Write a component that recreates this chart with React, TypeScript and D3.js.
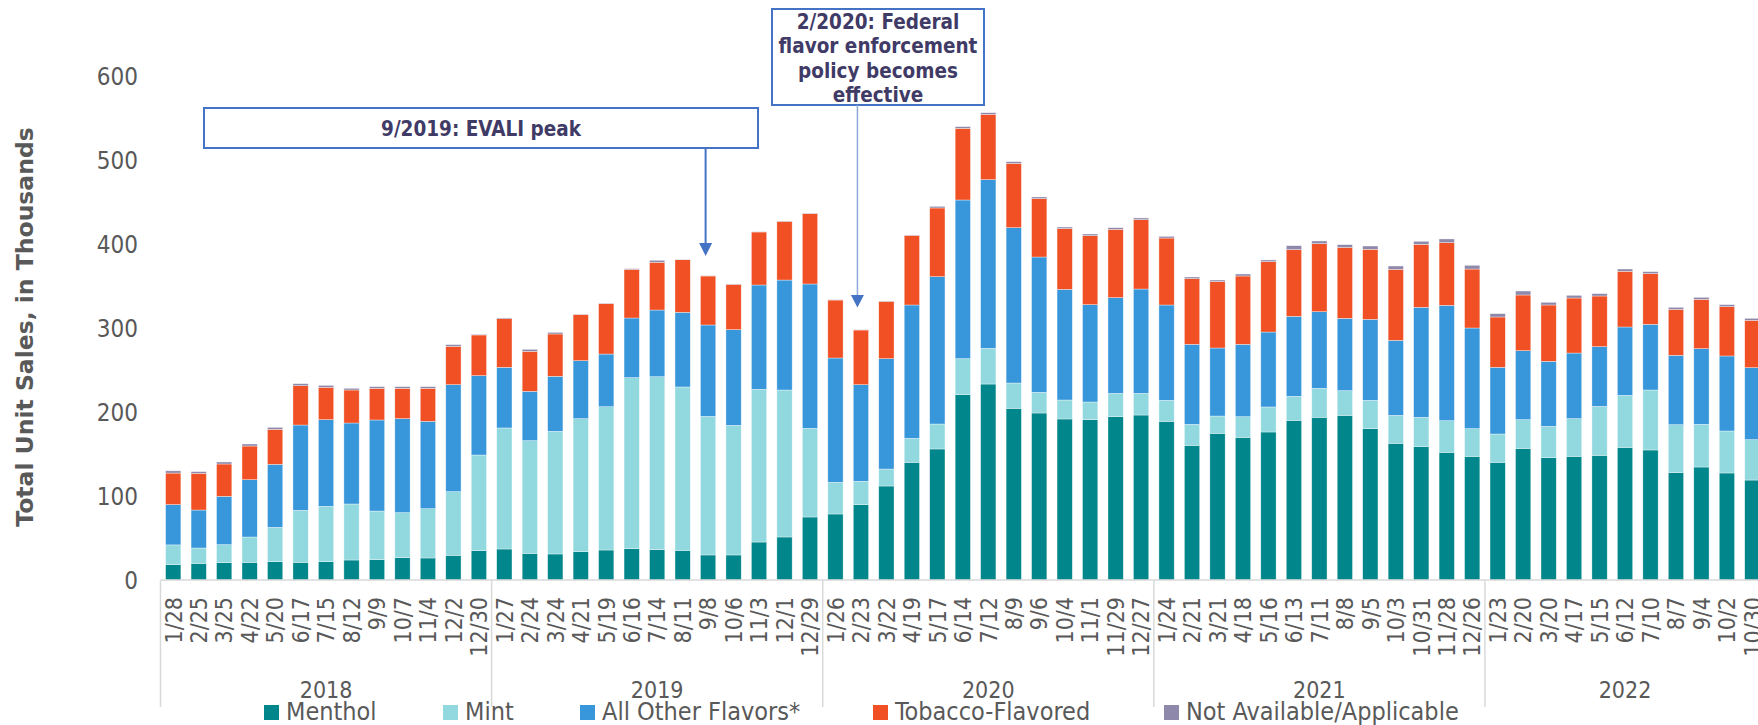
import * as d3 from "d3";

const dates = [
  "1/28", "2/25", "3/25", "4/22", "5/20", "6/17", "7/15", "8/12", "9/9", "10/7", "11/4", "12/2", "12/30",
  "1/27", "2/24", "3/24", "4/21", "5/19", "6/16", "7/14", "8/11", "9/8", "10/6", "11/3", "12/1", "12/29",
  "1/26", "2/23", "3/22", "4/19", "5/17", "6/14", "7/12", "8/9", "9/6", "10/4", "11/1", "11/29", "12/27",
  "1/24", "2/21", "3/21", "4/18", "5/16", "6/13", "7/11", "8/8", "9/5", "10/3", "10/31", "11/28", "12/26",
  "1/23", "2/20", "3/20", "4/17", "5/15", "6/12", "7/10", "8/7", "9/4", "10/2", "10/30",
];
const years = ["2018", "2019", "2020", "2021", "2022"];
const yearCounts = [13, 13, 13, 13, 11];

const menthol = [
  18.3, 19.8, 20.6, 21, 21.8, 21, 21.8, 23.8, 24.2, 26.6, 26.2, 29.4, 34.9,
  36.9, 31.7, 31, 33.7, 35.7, 37.3, 36.1, 35.3, 29.8, 29.8, 45.2, 51.2, 75,
  78.6, 89.7, 111.9, 140.1, 156, 220.6, 233.3, 204.4, 198.8, 191.7, 190.9, 194.4, 196.4,
  188.9, 160.3, 174.6, 169.8, 176.2, 190.1, 193.7, 196, 180.2, 162.7, 158.7, 152, 147.2,
  140.1, 156.7, 145.6, 147.2, 148.4, 157.9, 154.8, 127.8, 134.5, 127.4, 119,
];
const mint = [
  23.5, 18.3, 21.5, 30.2, 40.9, 61.9, 65.9, 66.7, 57.9, 53.6, 58.7, 75.8, 113.9,
  144.1, 134.2, 146, 158.4, 170.6, 203.6, 205.9, 194.5, 165, 154.3, 181.8, 175, 105.6,
  37.7, 27.8, 20.2, 28.6, 29.7, 42.9, 42.5, 30.1, 24.6, 22.6, 21, 27.8, 25.8,
  25, 25, 20.6, 24.6, 29.8, 28.6, 34.5, 29.4, 33.7, 33.3, 35, 37.7, 33,
  33.7, 34.2, 37.3, 44.9, 58.3, 61.9, 71.4, 57.1, 50.8, 50, 48.1,
];
const otherFlavors = [
  48, 45.2, 57.5, 68.2, 75, 101.6, 103.2, 96.4, 108.4, 111.9, 104, 127.3, 94.5,
  72.2, 58.7, 65.5, 69, 62.7, 71, 79.4, 88.9, 108.8, 113.9, 124.2, 130.9, 171.8,
  148, 115, 131.4, 158.7, 175.4, 188.9, 200.8, 184.9, 161.1, 131.7, 115.9, 113.9, 124.2,
  113.5, 95.3, 81, 86.2, 89.2, 95.2, 91.2, 86.1, 96.4, 89.3, 130.9, 137.3, 119.8,
  79.4, 82.1, 77.4, 78.1, 71.1, 81.4, 78.2, 82.6, 90.1, 89.3, 85.7,
];
const tobacco = [
  37.5, 43.7, 38.5, 40.1, 41.7, 46.8, 38.5, 39.3, 37.7, 36.1, 39.3, 45.7, 48.4,
  57.9, 47.6, 50.4, 54.8, 60, 57.9, 56.8, 62.6, 58.3, 54, 63.1, 69.9, 83.7,
  69, 65.1, 68.2, 82.9, 81.8, 85.3, 77.8, 76.6, 69.5, 72.3, 82.1, 81.4, 82.6,
  79.7, 78.1, 79, 81.3, 83.8, 79.4, 81, 84.5, 83.4, 84.5, 75, 74.6, 70.2,
  59.9, 66.3, 67.1, 65.5, 60.3, 66.3, 60.3, 54.7, 58.7, 58.7, 56.3,
];
const notAvailable = [
  2.7, 2, 2.4, 2.4, 2.3, 2.4, 2.3, 2, 2, 2, 2, 2, 0.8,
  0.9, 2.4, 1.9, 0.4, 0.4, 0.8, 2.4, 0.4, 0.4, 0.4, 0.4, 0.4, 0.4,
  0.4, 0.4, 0.4, 0.4, 1.9, 2, 1.9, 2, 2, 1.9, 2, 1.9, 2,
  2, 2, 1.9, 2.4, 2, 4.7, 3.2, 3.2, 3.9, 4, 3.6, 4.4, 4.4,
  4, 4.7, 3.2, 3.2, 2.8, 2.7, 2.4, 2.4, 2.4, 2.4, 2.4,
];

const seriesNames = ["Menthol", "Mint", "All Other Flavors*", "Tobacco-Flavored", "Not Available/Applicable"];
const seriesColors = ["#00868B", "#92D9DF", "#3897DB", "#F05023", "#8E88AA"];
const yTicks = [0, 100, 200, 300, 400, 500, 600];

const W = 1758;
const H = 725;
const FONT = "'DejaVu Sans Condensed', 'DejaVu Sans', sans-serif";
const GRAY = "#595959";
const NOTE = "#3F3B66";

export default function App() {
  const rows = dates.map((d, i) => ({
    i,
    date: d,
    s0: menthol[i],
    s1: mint[i],
    s2: otherFlavors[i],
    s3: tobacco[i],
    s4: notAvailable[i],
  }));
  const keys = ["s0", "s1", "s2", "s3", "s4"];
  const stacked = d3.stack<any>().keys(keys)(rows);

  const step = 25.47;
  const x0 = 160.5;
  const x = d3
    .scaleBand<number>()
    .domain(rows.map((r) => r.i))
    .range([x0, x0 + step * rows.length])
    .paddingInner(0.4)
    .paddingOuter(0.2);
  const y = d3.scaleLinear().domain([0, 600]).range([580, 76]);
  const cx = (i: number) => (x(i) as number) + x.bandwidth() / 2;

  // year group boundaries
  const bounds: number[] = [0];
  yearCounts.forEach((c) => bounds.push(bounds[bounds.length - 1] + c));
  const edge = (k: number) => x0 + x.step() * bounds[k];

  const legendX = [264, 443, 580, 873, 1164];

  const evaliX = cx(dates.indexOf("9/8", 13)) - 2.5;
  const fedX = cx(dates.indexOf("2/23", 26)) - 3.5;

  return (
    <div style={{ position: "absolute", left: 0, top: 0, width: W, height: H, overflow: "hidden" }}>
      <svg width={W} height={H} style={{ display: "block", fontFamily: FONT, fontStretch: "condensed" }}>
        <rect width={W} height={H} fill="#fff" />

        {/* bars */}
        {stacked.map((layer, li) => (
          <g key={li} fill={seriesColors[li]}>
            {layer.map((d, j) => (
              <rect
                key={j}
                x={x(j)}
                width={x.bandwidth()}
                y={y(d[1])}
                height={Math.max(0, y(d[0]) - y(d[1]))}
                stroke="#fff"
                strokeWidth={0.6}
                strokeOpacity={0.6}
              />
            ))}
          </g>
        ))}

        {/* y tick labels */}
        {yTicks.map((t) => (
          <text key={t} x={138} y={y(t)} dy="0.36em" textAnchor="end" fontSize={24} fill={GRAY}>
            {t}
          </text>
        ))}

        {/* x axis */}
        <line x1={x0} x2={W} y1={y(0)} y2={y(0)} stroke="#D9D9D9" strokeWidth={1.5} />
        {bounds.map((b, k) => (
          <line key={k} x1={edge(k)} x2={edge(k)} y1={y(0)} y2={707} stroke="#D9D9D9" strokeWidth={1.5} />
        ))}
        {rows.map((r) => (
          <text
            key={r.i}
            transform={`translate(${cx(r.i)},597) rotate(-90)`}
            dy="0.36em"
            textAnchor="end"
            fontSize={23}
            fill={GRAY}
          >
            {r.date}
          </text>
        ))}
        {years.map((yr, k) => (
          <text key={yr} x={(edge(k) + edge(k + 1)) / 2} y={698} textAnchor="middle" fontSize={23} fill={GRAY}>
            {yr}
          </text>
        ))}

        {/* y axis title */}
        <text
          transform={`translate(33,327) rotate(-90)`}
          textAnchor="middle"
          fontSize={23.5}
          fontWeight="bold"
          fill={GRAY}
          style={{ fontFamily: "'DejaVu Sans', sans-serif", fontStretch: "normal" }}
        >
          Total Unit Sales, in Thousands
        </text>

        {/* legend */}
        {seriesNames.map((n, k) => (
          <g key={n}>
            <rect x={legendX[k]} y={705} width={15} height={15} fill={seriesColors[k]} />
            <text x={legendX[k] + 22} y={720} fontSize={25} fill={GRAY}>
              {n}
            </text>
          </g>
        ))}

        {/* annotations */}
        <rect x={204} y={108} width={554} height={40} fill="#fff" stroke="#4472C4" strokeWidth={2} />
        <text x={481} y={136} textAnchor="middle" fontSize={20.5} fontWeight="bold" fill={NOTE}>
          9/2019: EVALI peak
        </text>
        <line x1={evaliX} x2={evaliX} y1={148} y2={244} stroke="#4472C4" strokeWidth={2} />
        <path d={`M${evaliX - 6.5},243 L${evaliX + 6.5},243 L${evaliX},256 Z`} fill="#4472C4" />

        <rect x={772} y={9} width={212} height={96} fill="#fff" stroke="#4472C4" strokeWidth={2} />
        {["2/2020: Federal", "flavor enforcement", "policy becomes", "effective"].map((l, k) => (
          <text key={k} x={878} y={29 + k * 24.3} textAnchor="middle" fontSize={20.5} fontWeight="bold" fill={NOTE}>
            {l}
          </text>
        ))}
        <line x1={fedX} x2={fedX} y1={105} y2={296} stroke="#8EA9DB" strokeWidth={1.5} />
        <path d={`M${fedX - 6.5},295 L${fedX + 6.5},295 L${fedX},307.5 Z`} fill="#4472C4" />
      </svg>
    </div>
  );
}
